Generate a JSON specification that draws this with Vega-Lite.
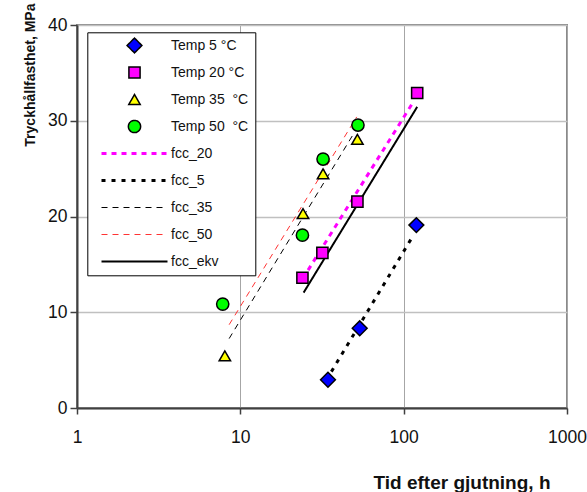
{
  "$schema": "https://vega.github.io/schema/vega-lite/v6.json",
  "width": 490,
  "height": 383,
  "autosize": {"type": "none"},
  "padding": {"left": 77, "top": 25, "right": 20, "bottom": 84},
  "background": "white",
  "config": {
    "view": {"stroke": "#8a8a8a", "strokeWidth": 2},
    "font": "Liberation Sans"
  },
  "datasets": {
    "points": [
      {"series": "Temp 5 °C", "t": 34.4, "f": 2.95},
      {"series": "Temp 5 °C", "t": 53.8, "f": 8.32},
      {"series": "Temp 5 °C", "t": 119.6, "f": 19.1},
      {"series": "Temp 20 °C", "t": 24, "f": 13.6},
      {"series": "Temp 20 °C", "t": 31.8, "f": 16.2},
      {"series": "Temp 20 °C", "t": 52.1, "f": 21.55},
      {"series": "Temp 20 °C", "t": 121, "f": 32.9},
      {"series": "Temp 35\u00a0 °C", "t": 8.04, "f": 5.45},
      {"series": "Temp 35\u00a0 °C", "t": 24.2, "f": 20.3},
      {"series": "Temp 35\u00a0 °C", "t": 32.1, "f": 24.45},
      {"series": "Temp 35\u00a0 °C", "t": 52.1, "f": 28.05},
      {"series": "Temp 50\u00a0 °C", "t": 7.8, "f": 10.85},
      {"series": "Temp 50\u00a0 °C", "t": 24, "f": 18.05},
      {"series": "Temp 50\u00a0 °C", "t": 32.1, "f": 26},
      {"series": "Temp 50\u00a0 °C", "t": 52.5, "f": 29.55}
    ],
    "lines": [
      {"series": "fcc_20", "t": 26, "f": 14.4},
      {"series": "fcc_20", "t": 113, "f": 31.8},
      {"series": "fcc_5", "t": 36.1, "f": 3.8},
      {"series": "fcc_5", "t": 112, "f": 17.75},
      {"series": "fcc_35", "t": 8.54, "f": 7.25},
      {"series": "fcc_35", "t": 48.8, "f": 28.5},
      {"series": "fcc_50", "t": 8.54, "f": 8.7},
      {"series": "fcc_50", "t": 51.6, "f": 30.4},
      {"series": "fcc_ekv", "t": 24.4, "f": 12.05},
      {"series": "fcc_ekv", "t": 121, "f": 31.45}
    ]
  },
  "layer": [
    {
      "data": {"name": "lines"},
      "mark": {"type": "line"},
      "encoding": {
        "x": {
          "field": "t", "type": "quantitative",
          "scale": {"type": "log", "domain": [1, 1000], "nice": false},
          "axis": {
            "values": [1, 10, 100, 1000], "format": "d",
            "title": "Tid efter gjutning, h",
            "grid": true, "gridColor": "#a6a6a6", "gridWidth": 1,
            "domainColor": "#404040", "domainWidth": 2,
            "tickColor": "#404040", "tickSize": 6, "tickWidth": 1.5,
            "labelFont": "Liberation Sans", "labelFontSize": 17.5, "labelColor": "#111111",
            "labelPadding": 14, "labelFlush": false, "labelOverlap": false,
            "titleFont": "Liberation Sans", "titleFontWeight": "bold", "titleFontSize": 19, "titleColor": "#111111",
            "titleX": 473, "titleY": 80, "titleAlign": "right", "titleBaseline": "alphabetic"
          }
        },
        "y": {
          "field": "f", "type": "quantitative",
          "scale": {"domain": [0, 40], "nice": false},
          "axis": {
            "values": [0, 10, 20, 30, 40],
            "title": "Tryckhållfasthet, MPa",
            "grid": true, "gridColor": "#c0c0c0", "gridWidth": 1.5,
            "domainColor": "#404040", "domainWidth": 2,
            "tickColor": "#404040", "tickSize": 7, "tickWidth": 1.5,
            "labelFont": "Liberation Sans", "labelFontSize": 17.5, "labelColor": "#111111",
            "labelPadding": 3, "labelFlush": false,
            "titleFont": "Liberation Sans", "titleFontWeight": "bold", "titleFontSize": 14, "titleColor": "#111111",
            "titleAngle": 270, "titleX": -42.7, "titleY": -22, "titleAlign": "right", "titleBaseline": "alphabetic"
          }
        },
        "stroke": {
          "field": "series", "type": "nominal", "title": "\u00a0",
          "scale": {
            "domain": ["Temp 5 °C", "Temp 20 °C", "Temp 35\u00a0 °C", "Temp 50\u00a0 °C", "fcc_20", "fcc_5", "fcc_35", "fcc_50", "fcc_ekv"],
            "range": ["#000000", "#000000", "#000000", "#000000", "#ff00ff", "#000000", "#000000", "#ff3333", "#000000"]
          }
        },
        "strokeDash": {
          "field": "series", "type": "nominal", "title": "\u00a0",
          "scale": {
            "domain": ["Temp 5 °C", "Temp 20 °C", "Temp 35\u00a0 °C", "Temp 50\u00a0 °C", "fcc_20", "fcc_5", "fcc_35", "fcc_50", "fcc_ekv"],
            "range": [[1, 0], [1, 0], [1, 0], [1, 0], [5, 5], [4, 6], [6, 5], [6, 5], [1, 0]]
          }
        },
        "strokeWidth": {
          "field": "series", "type": "nominal", "title": "\u00a0",
          "scale": {
            "type": "ordinal",
            "domain": ["Temp 5 °C", "Temp 20 °C", "Temp 35\u00a0 °C", "Temp 50\u00a0 °C", "fcc_20", "fcc_5", "fcc_35", "fcc_50", "fcc_ekv"],
            "range": [1.5, 1.5, 1.5, 1.5, 3, 3, 1, 1, 2]
          }
        }
      }
    },
    {
      "data": {"name": "points"},
      "mark": {"type": "point", "filled": true, "strokeWidth": 1.5, "opacity": 1},
      "encoding": {
        "x": {"field": "t", "type": "quantitative"},
        "y": {"field": "f", "type": "quantitative"},
        "stroke": {"field": "series", "type": "nominal", "title": "\u00a0"},
        "fill": {
          "field": "series", "type": "nominal", "title": "\u00a0",
          "scale": {
            "domain": ["Temp 5 °C", "Temp 20 °C", "Temp 35\u00a0 °C", "Temp 50\u00a0 °C", "fcc_20", "fcc_5", "fcc_35", "fcc_50", "fcc_ekv"],
            "range": ["#0000ff", "#ff00ff", "#ffff00", "#00ff00", "transparent", "transparent", "transparent", "transparent", "transparent"]
          }
        },
        "size": {
          "field": "series", "type": "nominal", "title": "\u00a0",
          "scale": {
            "type": "ordinal",
            "domain": ["Temp 5 °C", "Temp 20 °C", "Temp 35\u00a0 °C", "Temp 50\u00a0 °C", "fcc_20", "fcc_5", "fcc_35", "fcc_50", "fcc_ekv"],
            "range": [220, 125, 130, 150, 4356, 4356, 4356, 4356, 4356]
          }
        },
        "shape": {
          "field": "series", "type": "nominal", "title": "\u00a0",
          "scale": {
            "domain": ["Temp 5 °C", "Temp 20 °C", "Temp 35\u00a0 °C", "Temp 50\u00a0 °C", "fcc_20", "fcc_5", "fcc_35", "fcc_50", "fcc_ekv"],
            "range": ["diamond", "square", "triangle-up", "circle", "stroke", "stroke", "stroke", "stroke", "stroke"]
          },
          "legend": {
            "orient": "none",
            "legendX": 10.3,
            "legendY": 7.3,
            "padding": 1,
            "strokeColor": "black",
            "fillColor": "white",
            "clipHeight": 24.4,
            "rowPadding": 2,
            "symbolOffset": 11.7,
            "labelOffset": 2,
            "labelFont": "Liberation Sans",
            "labelFontSize": 14,
            "labelColor": "#111111",
            "labelLimit": 200,
            "titleOrient": "right",
            "titlePadding": 6,
            "titleFontSize": 11
          }
        }
      }
    }
  ]
}
